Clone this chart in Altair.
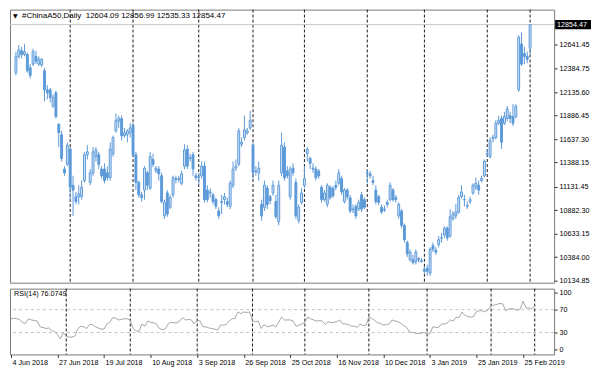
import altair as alt
import pandas as pd

# ---------------- data ----------------
opens = [12344, 12517, 12577, 12537, 12537, 12395, 12435, 12517, 12435, 12425,
         12364, 12161, 12161, 11989, 12131, 11796, 11684, 11319, 11370, 11532,
         11147, 11025, 11025, 11025, 11197, 11471, 11177, 11279, 11451, 11471,
         11319, 11319, 11279, 11228, 11482, 11725, 11827, 11857, 11674, 11684,
         11705, 11786, 11471, 11177, 11045, 11096, 11279, 11116, 11421, 11299,
         11319, 11248, 10822, 11065, 10913, 11045, 11218, 11208, 11167, 11350,
         11532, 11431, 11471, 11248, 11228, 11248, 11350, 11096, 11076, 11045,
         10994, 10873, 10974, 10994, 10974, 10923, 11147, 11329, 11370, 11583,
         11654, 11705, 11756, 11573, 11299, 11279, 10944, 10913, 11116, 11025,
         11065, 10974, 10761, 11279, 11553, 11299, 11025, 11329, 11177, 10771,
         10964, 11147, 11482, 11431, 11329, 11319, 11299, 11126, 10994, 10944,
         11126, 11116, 11147, 11167, 11218, 10974, 11096, 11015, 10893, 10923,
         10893, 11045, 10994, 11279, 11268, 11197, 11096, 11025, 10913, 10893,
         10964, 10994, 11096, 11015, 10822, 10873, 10720, 10538, 10355, 10355,
         10335, 10365, 10335, 10254, 10264, 10213, 10507, 10457, 10517, 10588,
         10619, 10690, 10609, 10791, 10822, 10862, 11025, 10994, 10933, 10974,
         11065, 11126, 11147, 11197, 11248, 11482, 11451, 11644, 11654, 11806,
         11857, 11806, 11857, 11887, 11877, 11877, 12161, 12649, 12547, 12517,
         12604.09]
highs = [12567, 12638, 12618, 12649, 12557, 12435, 12598, 12578, 12517, 12496,
         12395, 12212, 12182, 12111, 12151, 11806, 11725, 11350, 11603, 11553,
         11248, 11076, 11147, 11197, 11502, 11573, 11319, 11553, 11553, 11502,
         11350, 11380, 11350, 11603, 11674, 11908, 11887, 11887, 11756, 11745,
         11806, 11806, 11502, 11197, 11076, 11350, 11299, 11502, 11482, 11350,
         11350, 11279, 10994, 11096, 11045, 11248, 11248, 11248, 11299, 11583,
         11573, 11482, 11502, 11279, 11279, 11400, 11400, 11147, 11116, 11065,
         11015, 10913, 11045, 11065, 11015, 11197, 11400, 11421, 11756, 11654,
         11887, 11756, 11938, 11603, 11350, 11400, 10994, 11197, 11147, 11045,
         11197, 11045, 11197, 11705, 11603, 11350, 11350, 11380, 11218, 10944,
         11116, 11350, 11553, 11451, 11380, 11350, 11319, 11147, 11096, 11167,
         11147, 11136, 11197, 11319, 11248, 11116, 11116, 11045, 10944, 10944,
         10994, 11076, 11015, 11319, 11299, 11248, 11147, 11045, 10944, 10933,
         10994, 11177, 11116, 11045, 10964, 10893, 10741, 10558, 10467, 10406,
         10467, 10385, 10375, 10284, 10304, 10487, 10538, 10487, 10609, 10639,
         10710, 10710, 10893, 10873, 10944, 11045, 11147, 11045, 10974, 11025,
         11167, 11228, 11197, 11248, 11421, 11522, 11654, 11684, 11837, 11887,
         11887, 11928, 11989, 11928, 12009, 12009, 12740, 12770, 12618, 12567,
         12856.99]
lows = [12314, 12496, 12496, 12517, 12344, 12283, 12415, 12435, 12415, 12405,
        12040, 12060, 12029, 11969, 11857, 11553, 11400, 11248, 11350, 10994,
        10822, 10944, 10944, 10994, 11177, 11421, 11147, 11248, 11400, 11319,
        11218, 11167, 11197, 11197, 11451, 11705, 11756, 11624, 11654, 11603,
        11654, 11451, 11096, 11015, 10974, 10994, 11096, 11096, 11339, 11279,
        11197, 10954, 10791, 10812, 10893, 11015, 11167, 11177, 11147, 11319,
        11319, 11400, 11248, 11197, 11147, 11218, 10964, 10964, 11015, 10944,
        10893, 10791, 10842, 10944, 10913, 10893, 11116, 11299, 11350, 11553,
        11624, 11684, 11735, 11218, 11248, 11197, 10771, 10873, 10893, 10944,
        11035, 10791, 10720, 11248, 11197, 11218, 10994, 11248, 10791, 10741,
        10944, 11116, 11400, 11319, 11279, 11197, 11218, 10964, 10974, 10913,
        10994, 11015, 11096, 11147, 11045, 10954, 10994, 10852, 10852, 10791,
        10873, 10862, 10893, 11167, 11218, 11147, 10944, 10933, 10842, 10862,
        10913, 10974, 10974, 10964, 10791, 10690, 10538, 10385, 10335, 10304,
        10304, 10325, 10325, 10213, 10183, 10183, 10436, 10406, 10487, 10538,
        10588, 10558, 10588, 10771, 10791, 10842, 11005, 10923, 10893, 10944,
        11045, 11096, 11045, 11177, 11228, 11451, 11431, 11603, 11634, 11786,
        11532, 11786, 11827, 11806, 11776, 11857, 12141, 12415, 12435, 12446,
        12535.33]
closes = [12517, 12588, 12537, 12567, 12364, 12314, 12567, 12466, 12486, 12486,
          12161, 12131, 12080, 12080, 11877, 11705, 11431, 11279, 11573, 11126,
          11096, 10974, 11055, 11126, 11471, 11502, 11279, 11502, 11522, 11370,
          11248, 11197, 11228, 11532, 11654, 11837, 11857, 11674, 11705, 11725,
          11756, 11471, 11177, 11045, 11015, 11329, 11147, 11451, 11370, 11329,
          11268, 10974, 10964, 10842, 11015, 11228, 11208, 11218, 11268, 11522,
          11350, 11441, 11319, 11228, 11238, 11350, 10994, 10994, 11065, 10974,
          10923, 10822, 10964, 11025, 10944, 11167, 11319, 11350, 11725, 11603,
          11735, 11725, 11837, 11279, 11295, 11329, 10822, 11147, 10944, 10984,
          11147, 10812, 11147, 11573, 11228, 11248, 11319, 11279, 10822, 10913,
          11065, 11218, 11532, 11380, 11319, 11228, 11248, 10994, 11065, 11147,
          11015, 11035, 11126, 11279, 11076, 11096, 11025, 10873, 10888, 10822,
          10964, 10893, 10913, 11275, 11248, 11177, 10974, 10964, 10862, 10883,
          10944, 11147, 10994, 10994, 10944, 10720, 10568, 10416, 10436, 10325,
          10436, 10355, 10345, 10233, 10233, 10467, 10467, 10436, 10568, 10584,
          10690, 10588, 10812, 10842, 10862, 11015, 11076, 10990, 10923, 10994,
          11147, 11167, 11096, 11218, 11400, 11478, 11624, 11654, 11806, 11837,
          11603, 11877, 11958, 11857, 11806, 11989, 12720, 12435, 12517, 12486,
          12854.47]
rsi = [54, 55, 54, 53, 47, 46, 54, 52, 51, 50,
       40, 39, 37, 38, 33, 32, 26, 19, 30, 23,
       22, 22, 24, 37, 41, 40, 37, 44, 44, 40,
       38, 36, 36, 45, 48, 56, 55, 52, 53, 54,
       54, 51, 37, 33, 32, 45, 41, 50, 48, 47,
       45, 37, 35, 36, 45, 48, 47, 47, 50, 56,
       52, 53, 52, 45, 52, 50, 40, 40, 38, 37,
       36, 34, 43, 43, 44, 50, 54, 55, 66, 63,
       66, 65, 66, 51, 49, 50, 37, 44, 40, 41,
       43, 40, 48, 57, 52, 52, 52, 50, 41, 43,
       45, 48, 57, 54, 52, 50, 51, 50, 44, 49,
       47, 48, 49, 52, 45, 45, 44, 41, 41, 39,
       45, 42, 43, 57, 55, 51, 47, 46, 43, 44,
       45, 52, 50, 49, 46, 42, 39, 31, 30, 29,
       28, 29, 30, 27, 28, 40, 39, 39, 45, 45,
       47, 52, 50, 57, 56, 66, 60, 58, 57, 58,
       67, 68, 68, 66, 70, 77, 78, 79, 81, 80,
       68, 71, 72, 71, 69, 71, 85, 73, 73, 72,
       76.0749]

tick_idx = [0, 16, 32, 48, 64, 80, 96, 112, 128, 144, 160, 176]
tick_labels = ["4 Jun 2018", "27 Jun 2018", "19 Jul 2018", "10 Aug 2018", "3 Sep 2018",
               "26 Sep 2018", "25 Oct 2018", "16 Nov 2018", "10 Dec 2018", "3 Jan 2019",
               "25 Jan 2019", "25 Feb 2019"]
separators = [19, 41, 64, 83, 101, 123, 143, 165, 180]
price_ticks = [10134.85, 10384.00, 10633.15, 10882.30, 11131.45, 11388.15,
               11637.30, 11886.45, 12135.60, 12384.75, 12641.45]
rsi_ticks = [0, 30, 70, 100]
rsi_levels = [30, 70]
last_price = [12854.47]
header_text = "#ChinaA50,Daily\u00a0\u00a012604.09\u00a012856.99\u00a012535.33\u00a012854.47"
rsi_text = "RSI(14) 76.0749"

# ---------------- chart ----------------
W, H1, H2 = 546, 274, 66
BLUE = "#5c9ad9"
LIGHT = "#d8e7f7"
FONT = "Liberation Sans"
FS = 7.2

df = pd.DataFrame({"i": list(range(len(closes))), "o": opens, "h": highs,
                   "l": lows, "c": closes, "rsi": rsi})

xs = alt.Scale(domain=[-0.333, 186.667], nice=False, zero=False)
ys = alt.Scale(domain=[10111.5, 13013.9], nice=False, zero=False)
rs = alt.Scale(domain=[-8.3, 106.7], nice=False, zero=False)

price_axis = alt.Axis(orient="right", values=price_ticks, format=".2f", grid=False,
                      domain=False, tickSize=3, tickColor="#333", labelFont=FONT,
                      labelFontSize=FS, labelColor="#000", labelPadding=2,
                      labelOverlap=False, labelSeparation=0, title=None)
label_expr = ("[" + ",".join("'" + t + "'" for t in tick_labels) + "][indexof(["
              + ",".join(str(v) for v in tick_idx) + "], datum.value)]")
date_axis = alt.Axis(values=tick_idx, labelExpr=label_expr, grid=False, domain=False,
                     tickSize=3, tickColor="#333", labelFont=FONT, labelFontSize=FS,
                     labelColor="#000", labelAlign="left", labelOffset=1,
                     labelPadding=1, labelFlush=False, labelOverlap=False,
                     labelBound=False, title=None)
rsi_axis = alt.Axis(orient="right", values=rsi_ticks, format="d", grid=False,
                    domain=False, tickSize=3, tickColor="#333", labelFont=FONT,
                    labelFontSize=FS, labelColor="#000", labelPadding=2,
                    labelOverlap=False, title=None)

sep_df = pd.DataFrame({"s": separators})
lp_df = pd.DataFrame({"p": last_price})

# ----- main (price) panel -----
seps_main = alt.Chart(sep_df).mark_rule(color="#1a1a1a", strokeDash=[3, 2], strokeWidth=1).encode(
    x=alt.X("s:Q", scale=xs, axis=None))

bid = alt.Chart(lp_df).mark_rule(color="#c8c8c8", strokeWidth=1).encode(
    y=alt.Y("p:Q", scale=ys, axis=price_axis))

wick = alt.Chart(df).mark_rule(color=BLUE, strokeWidth=1).encode(
    x=alt.X("i:Q", scale=xs, axis=None),
    y=alt.Y("l:Q", scale=ys, axis=price_axis),
    y2="h:Q")

body = alt.Chart(df).mark_bar(size=1.9, stroke=BLUE, strokeWidth=1, orient="vertical").encode(
    x=alt.X("i:Q", scale=xs, axis=None),
    y=alt.Y("o:Q", scale=ys, axis=price_axis),
    y2="c:Q",
    fill=alt.condition(alt.datum.c >= alt.datum.o, alt.value(LIGHT), alt.value(BLUE)))

box = alt.Chart(lp_df).transform_calculate(
    top="datum.p + 50", bot="datum.p - 50").mark_rect(color="#000").encode(
    x=alt.value(W + 1), x2=alt.value(W + 37),
    y=alt.Y("top:Q", scale=ys, axis=price_axis), y2="bot:Q")
box_text = alt.Chart(lp_df).mark_text(
    align="left", baseline="middle", color="#fff", font=FONT, fontSize=FS).encode(
    x=alt.value(W + 3), y=alt.Y("p:Q", scale=ys, axis=price_axis),
    text=alt.Text("p:Q", format=".2f"))

tri = alt.Chart(pd.DataFrame({"t": ["▼"]})).mark_text(
    align="left", baseline="middle", font="DejaVu Sans", fontSize=6, color="#000").encode(
    x=alt.value(3), y=alt.value(6), text="t:N")
head = alt.Chart(pd.DataFrame({"t": [header_text]})).mark_text(
    align="left", baseline="middle", font=FONT, fontSize=8, color="#000").encode(
    x=alt.value(12), y=alt.value(6), text="t:N")

main = alt.layer(seps_main, bid, wick, body, box, box_text, tri, head).properties(width=W, height=H1)

# ----- RSI panel -----
levels = alt.Chart(pd.DataFrame({"v": rsi_levels})).mark_rule(
    color="#c4c4c4", strokeDash=[3, 3], strokeWidth=1).encode(
    y=alt.Y("v:Q", scale=rs, axis=rsi_axis))
seps_rsi = alt.Chart(sep_df).mark_rule(color="#1a1a1a", strokeDash=[3, 2], strokeWidth=1).encode(
    x=alt.X("s:Q", scale=xs, axis=date_axis))
rsi_line = alt.Chart(df).mark_line(color="#a6a6a6", strokeWidth=1).encode(
    x=alt.X("i:Q", scale=xs, axis=date_axis),
    y=alt.Y("rsi:Q", scale=rs, axis=rsi_axis))
rsi_label = alt.Chart(pd.DataFrame({"t": [rsi_text]})).mark_text(
    align="left", baseline="middle", font=FONT, fontSize=FS, color="#000").encode(
    x=alt.value(4), y=alt.value(5), text="t:N")

lower = alt.layer(levels, seps_rsi, rsi_line, rsi_label).properties(width=W, height=H2)

chart = alt.vconcat(main, lower, spacing=3).properties(
    padding=0, background="#ffffff").configure_view(stroke="#7a7a7a", strokeWidth=1)

chart.save("out.html", embed_options={"renderer": "svg", "actions": False})
